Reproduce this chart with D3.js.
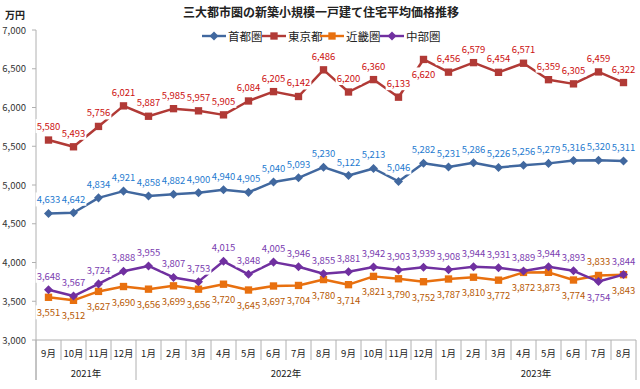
<!DOCTYPE html>
<html>
<head>
<meta charset="utf-8">
<script src="https://cdn.jsdelivr.net/npm/d3@7"></script>
<style>
  body { margin: 0; background: #fff; }
  svg { display: block; font-family: "Noto Sans CJK JP", "Noto Sans", sans-serif; }
</style>
</head>
<body>
<svg id="chart" width="640" height="389"></svg>
<script>
const months = ["9月", "10月", "11月", "12月",
    "1月", "2月", "3月", "4月", "5月", "6月", "7月", "8月", "9月", "10月", "11月", "12月",
    "1月", "2月", "3月", "4月", "5月", "6月", "7月", "8月"];
const years = [
    { label: "2021年", from: 0, to: 4 },
    { label: "2022年", from: 4, to: 16 },
    { label: "2023年", from: 16, to: 24 }
];
const yTicks = [3000, 3500, 4000, 4500, 5000, 5500, 6000, 6500, 7000];

const shutoken = [4633, 4642, 4834, 4921, 4858, 4882, 4900, 4940, 4905, 5040, 5093, 5230,
    5122, 5213, 5046, 5282, 5231, 5286, 5226, 5256, 5279, 5316, 5320, 5311];
const tokyo = [5580, 5493, 5756, 6021, 5887, 5985, 5957, 5905, 6084, 6205, 6142, 6486,
    6200, 6360, 6133, 6620, 6456, 6579, 6454, 6571, 6359, 6305, 6459, 6322];
const kinki = [3551, 3512, 3627, 3690, 3656, 3699, 3656, 3720, 3645, 3697, 3704, 3780,
    3714, 3821, 3790, 3752, 3787, 3810, 3772, 3872, 3873, 3774, 3833, 3843];
const chubu = [3648, 3567, 3724, 3888, 3955, 3807, 3753, 4015, 3848, 4005, 3946, 3855,
    3881, 3942, 3903, 3939, 3908, 3944, 3931, 3889, 3944, 3893, 3754, 3844];

// label side per series (1 = above, -1 = below), with a few flipped points
const series = [
    { name: "首都圏", values: shutoken, line: "#41689f", text: "#1f7bd0", marker: "diamond", side: 1, flip: [] },
    { name: "東京都", values: tokyo, line: "#b13a36", text: "#cc1010", marker: "square", side: 1, flip: [15] },
    { name: "近畿圏", values: kinki, line: "#e8700f", text: "#b85a05", marker: "square", side: -1, flip: [22] },
    { name: "中部圏", values: chubu, line: "#7030a0", text: "#7a3cb0", marker: "diamond", side: 1, flip: [22] }
];

const svg = d3.select("#chart");
const plotL = 36, plotR = 636, plotT = 30, plotB = 340;

const x = d3.scaleBand().domain(d3.range(months.length)).range([plotL, plotR]);
const y = d3.scaleLinear().domain([3000, 7000]).range([plotB, plotT]);
const cx = i => x(i) + x.bandwidth() / 2;

// title
svg.append("text")
    .attr("x", 321).attr("y", 17)
    .attr("text-anchor", "middle")
    .attr("font-size", 12).attr("font-weight", "bold").attr("fill", "#222")
    .text("三大都市圏の新築小規模一戸建て住宅平均価格推移");

svg.append("text")
    .attr("x", 5).attr("y", 19)
    .attr("font-size", 10).attr("font-weight", "bold").attr("fill", "#222")
    .text("万円");

// y axis
const yAxis = svg.append("g");
yAxis.append("line")
    .attr("x1", plotL).attr("x2", plotL).attr("y1", plotT).attr("y2", 380)
    .attr("stroke", "#b0b0b0");
yAxis.selectAll("line.tick").data(yTicks).join("line")
    .attr("class", "tick")
    .attr("x1", plotL - 4).attr("x2", plotL)
    .attr("y1", d => y(d)).attr("y2", d => y(d))
    .attr("stroke", "#b0b0b0");
yAxis.selectAll("text").data(yTicks).join("text")
    .attr("x", 26).attr("y", d => y(d) + 3.5)
    .attr("text-anchor", "end")
    .attr("font-size", 9.5).attr("fill", "#333")
    .text(d => d3.format(",")(d));

// x axis
const xAxis = svg.append("g");
xAxis.append("line")
    .attr("x1", plotL).attr("x2", plotR).attr("y1", plotB).attr("y2", plotB)
    .attr("stroke", "#b0b0b0");
xAxis.selectAll("line.tick").data(d3.range(months.length + 1)).join("line")
    .attr("class", "tick")
    .attr("x1", i => plotL + i * x.step()).attr("x2", i => plotL + i * x.step())
    .attr("y1", plotB)
    .attr("y2", i => (i === 0 || years.some(yr => yr.to === i)) ? 380 : 360)
    .attr("stroke", "#b0b0b0");
xAxis.selectAll("text.month").data(months).join("text")
    .attr("class", "month")
    .attr("x", (d, i) => cx(i)).attr("y", 357)
    .attr("text-anchor", "middle")
    .attr("font-size", 9.5).attr("fill", "#222")
    .text(d => d);
xAxis.selectAll("text.year").data(years).join("text")
    .attr("class", "year")
    .attr("x", d => (plotL + d.from * x.step() + plotL + d.to * x.step()) / 2)
    .attr("y", 377)
    .attr("text-anchor", "middle")
    .attr("font-size", 9.5).attr("fill", "#222")
    .text(d => d.label);

// lines and markers
const line = d3.line().x((d, i) => cx(i)).y(d => y(d));
const diamond = d3.symbol().type(d3.symbolDiamond2).size(52);
const square = d3.symbol().type(d3.symbolSquare).size(54);

for (const s of series) {
    svg.append("path")
        .attr("d", line(s.values))
        .attr("fill", "none")
        .attr("stroke", s.line)
        .attr("stroke-width", 2.5)
        .attr("stroke-linejoin", "round");
    svg.append("g").selectAll("path").data(s.values).join("path")
        .attr("transform", (d, i) => `translate(${cx(i)},${y(d)})`)
        .attr("d", s.marker === "diamond" ? diamond() : square())
        .attr("fill", s.line);
}

// data labels with white boxes (they cover the lines)
for (const s of series) {
    const g = svg.append("g");
    s.values.forEach((v, i) => {
        const side = s.flip.includes(i) ? -s.side : s.side;
        const ty = side > 0 ? y(v) - 10 : y(v) + 19;
        const lab = g.append("g");
        const rect = lab.append("rect").attr("fill", "#fff");
        const t = lab.append("text")
            .attr("x", cx(i)).attr("y", ty)
            .attr("text-anchor", "middle")
            .attr("font-size", 9.5)
            .attr("fill", s.text)
            .text(d3.format(",")(v));
        const b = t.node().getBBox();
        rect.attr("x", b.x - 1).attr("y", b.y).attr("width", b.width + 2).attr("height", b.height);
    });
}

// legend
const legend = [
    { x: 202, s: series[0] },
    { x: 262, s: series[1] },
    { x: 320, s: series[2] },
    { x: 380, s: series[3] }
];
const lg = svg.append("g").selectAll("g").data(legend).join("g")
    .attr("transform", d => `translate(${d.x},36)`);
lg.append("line")
    .attr("x1", 0).attr("x2", 24).attr("y1", 0).attr("y2", 0)
    .attr("stroke", d => d.s.line).attr("stroke-width", 2.4);
lg.append("path")
    .attr("transform", "translate(12,0)")
    .attr("d", d => d.s.marker === "diamond" ? diamond() : square())
    .attr("fill", d => d.s.line);
lg.append("text")
    .attr("x", 26).attr("y", 4.5)
    .attr("font-size", 11.5).attr("fill", "#222")
    .text(d => d.s.name);
</script>
</body>
</html>
